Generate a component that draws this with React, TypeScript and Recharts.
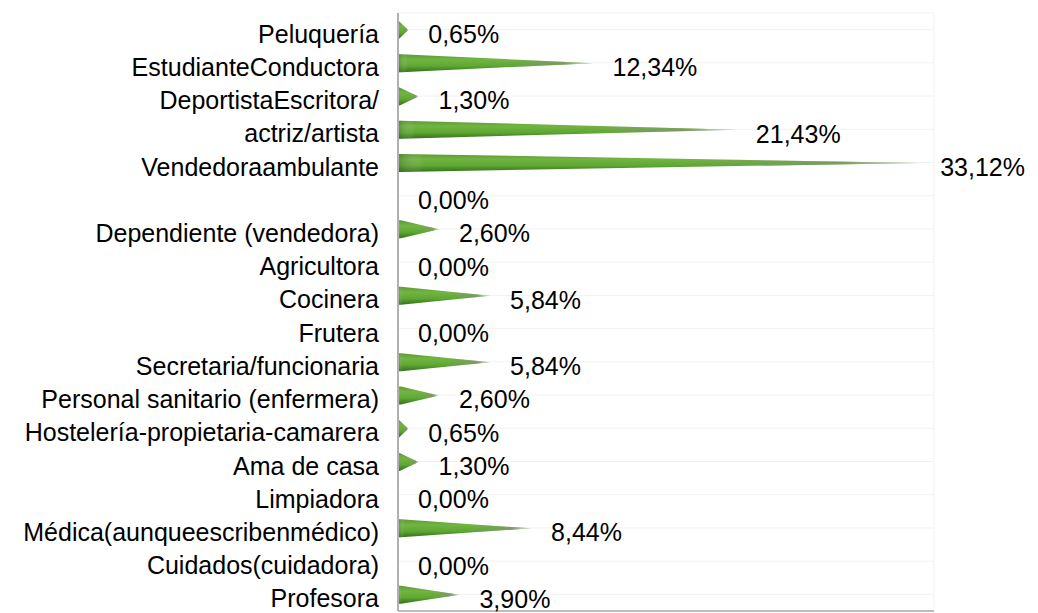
import React from "react";
import { BarChart, Bar, XAxis, YAxis, CartesianGrid, LabelList } from "recharts";

const categories = [
  "Peluquería",
  "EstudianteConductora",
  "DeportistaEscritora/",
  "actriz/artista",
  "Vendedoraambulante",
  "",
  "Dependiente (vendedora)",
  "Agricultora",
  "Cocinera",
  "Frutera",
  "Secretaria/funcionaria",
  "Personal sanitario (enfermera)",
  "Hostelería-propietaria-camarera",
  "Ama de casa",
  "Limpiadora",
  "Médica(aunqueescribenmédico)",
  "Cuidados(cuidadora)",
  "Profesora",
];

const values = [0.65, 12.34, 1.3, 21.43, 33.12, 0, 2.6, 0, 5.84, 0, 5.84, 2.6, 0.65, 1.3, 0, 8.44, 0, 3.9];

const data = categories.map((c, i) => ({ id: i, name: c, value: values[i] }));

const FONT = "'Liberation Sans', Arial, sans-serif";

const fmt = (v: number) => v.toFixed(2).replace(".", ",") + "%";

const Spike = (props: any) => {
  const { x, y, width, height } = props;
  if (!width || width <= 0) return null;
  const h = height;
  const flat = Math.min(width * 0.08, 3);
  const d = `M${x},${y + 1} Q${x},${y} ${x + 1},${y} L${x + flat},${y} L${x + width},${y + h / 2} L${x + flat},${y + h} L${x + 1},${y + h} Q${x},${y + h} ${x},${y + h - 1} Z`;
  return (
    <g>
      <path d={d} fill="url(#gv)" />
      <path d={d} fill="url(#gh)" />
    </g>
  );
};

const YTick = (props: any) => {
  const { x, y, payload } = props;
  return (
    <text x={x} y={y} dy={4} textAnchor="end" dominantBaseline="central" fontFamily={FONT} fontSize={25} fill="#000">
      {payload.value}
    </text>
  );
};

const ValueLabel = (props: any) => {
  const { x, y, width, height, value } = props;
  return (
    <text
      x={x + (width || 0) + 20}
      y={y + height / 2}
      dy={4}
      dominantBaseline="central"
      fontFamily={FONT}
      fontSize={25}
      fill="#000"
    >
      {fmt(value)}
    </text>
  );
};

export default function App() {
  return (
    <BarChart
      width={1030}
      height={605}
      data={data}
      layout="vertical"
      margin={{ top: 5, right: 104, bottom: 0, left: 0 }}
      barCategoryGap={0}
    >
      <defs>
        <linearGradient id="gv" x1="0" y1="0" x2="0" y2="1">
          <stop offset="0" stopColor="#5d9836" />
          <stop offset="0.3" stopColor="#72b541" />
          <stop offset="0.65" stopColor="#5ea833" />
          <stop offset="1" stopColor="#346f1c" />
        </linearGradient>
        <linearGradient id="gh" x1="0" y1="0" x2="1" y2="0">
          <stop offset="0" stopColor="#2e5a18" stopOpacity={0.35} />
          <stop offset="0.05" stopColor="#ffffff" stopOpacity={0} />
          <stop offset="0.55" stopColor="#8a8f80" stopOpacity={0} />
          <stop offset="0.85" stopColor="#8a8f80" stopOpacity={0.6} />
          <stop offset="1" stopColor="#ffffff" stopOpacity={0.95} />
        </linearGradient>
      </defs>
      <CartesianGrid stroke="#f2f2f2" horizontal={true} vertical={true} />
      <XAxis
        type="number"
        domain={[0, 34]}
        ticks={[0, 5, 10, 15, 20, 25, 30, 34]}
        tick={false}
        tickLine={false}
        height={2}
        axisLine={{ stroke: "#bdbdbd", strokeWidth: 2 }}
      />
      <YAxis
        type="category"
        dataKey="id"
        width={390}
        interval={0}
        tickLine={false}
        tickSize={6}
        tickMargin={13}
        tickFormatter={(v: any) => categories[v]}
        tick={(p: any) => <YTick {...p} payload={{ value: categories[p.payload.value] }} />}
        axisLine={{ stroke: "#b0b0b0", strokeWidth: 2 }}
      />
      <Bar dataKey="value" barSize={18} shape={<Spike />} isAnimationActive={false}>
        <LabelList dataKey="value" content={<ValueLabel />} />
      </Bar>
    </BarChart>
  );
}
